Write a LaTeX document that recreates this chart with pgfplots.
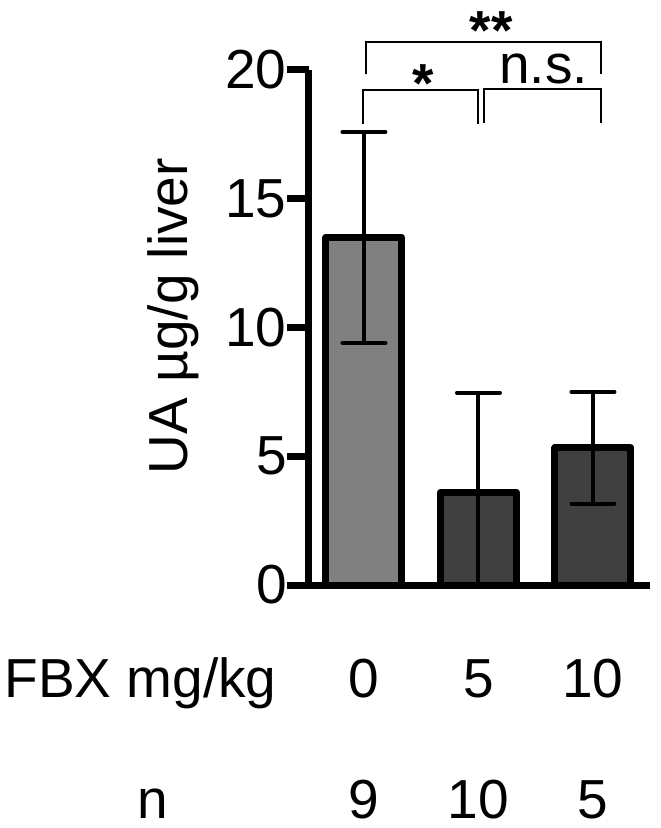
\documentclass[border=0pt]{standalone}
\usepackage{fontspec}
\setmainfont{Liberation Sans}
\usepackage{pgfplots}
\pgfplotsset{compat=1.18}
\newcommand\bigf{\fontsize{27.5}{33}\selectfont}
\definecolor{barA}{HTML}{808080}
\definecolor{barB}{HTML}{404040}
\begin{document}
\begin{tikzpicture}[lab/.style={font=\bigf, inner sep=0pt}]
\path[use as bounding box] (-154.5pt,-121.5pt) rectangle (175.5pt,292.5pt);
\begin{axis}[
    at={(0pt,0pt)}, anchor=south west,
    scale only axis, width=170.5pt, height=257.5pt,
    xmin=-0.48, xmax=2.498, ymin=0, ymax=20,
    axis x line=bottom, axis y line=left,
    axis line style={line width=3.5pt, -},
    xtick=\empty,
    ytick={0,5,10,15,20},
    tick align=outside, major tick length=11pt,
    ytick style={line width=3.5pt, black},
    yticklabel style={anchor=east, inner sep=0pt, font=\bigf},
    /pgf/number format/assume math mode=true,
    ybar, bar width=38pt,
    clip=false,
    every axis plot/.append style={draw=black, line width=3.5pt, line join=round, bar shift=0pt},
    error bars/error bar style={line width=2pt, black},
    error bars/error mark options={black, rotate=90, mark size=10.75pt, line width=2pt, line cap=round},
  ]
  % mean +/- error
  \addplot[fill=barA, error bars/.cd, y dir=both, y explicit]
    coordinates {(0,13.5) += (0,4.1) -= (0,4.1)};
  \addplot[fill=barB, error bars/.cd, y dir=both, y explicit]
    coordinates {(1,3.6) += (0,3.87) -= (0,3.6)};
  \addplot[fill=barB, error bars/.cd, y dir=both, y explicit]
    coordinates {(2,5.33) += (0,2.17) -= (0,2.17)};

  % significance brackets
  \draw[line width=1pt] (axis cs:0.02,19.84) -- (axis cs:0.02,21.09) -- (axis cs:2.07,21.09) -- (axis cs:2.07,19.84);
  \draw[line width=1pt] (axis cs:-0.01,17.9) -- (axis cs:-0.01,19.22) -- (axis cs:1.0,19.22) -- (axis cs:1.0,17.9);
  \draw[line width=1pt] (axis cs:1.05,17.95) -- (axis cs:1.05,19.26) -- (axis cs:2.07,19.26) -- (axis cs:2.07,17.95);
  \node[lab, anchor=base, font=\bigf\bfseries] at (axis cs:1.11,20.8) {**};
  \node[lab, anchor=base, font=\bigf\bfseries] at (axis cs:0.515,18.72) {*};
  \node[lab, anchor=base] at (axis cs:1.57,19.49) {n.s.};

  % y label
  \node[lab, rotate=90, anchor=base] at ([xshift=-60.5pt]rel axis cs:0,0.522) {UA µg/g liver};

  % rows under the axis
  \node[lab, anchor=base east] at ([xshift=-16pt,yshift=-56pt]rel axis cs:0,0) {FBX mg/kg};
  \node[lab, anchor=base] at ([xshift=-78.25pt,yshift=-116.5pt]rel axis cs:0,0) {n};
  \node[lab, anchor=base] at ([yshift=-56pt]axis cs:0,0) {0};
  \node[lab, anchor=base] at ([yshift=-56pt]axis cs:1,0) {5};
  \node[lab, anchor=base] at ([yshift=-56pt]axis cs:2,0) {10};
  \node[lab, anchor=base] at ([yshift=-116.5pt]axis cs:0,0) {9};
  \node[lab, anchor=base] at ([yshift=-116.5pt]axis cs:1,0) {10};
  \node[lab, anchor=base] at ([yshift=-116.5pt]axis cs:2,0) {5};
\end{axis}
\end{tikzpicture}
\end{document}
